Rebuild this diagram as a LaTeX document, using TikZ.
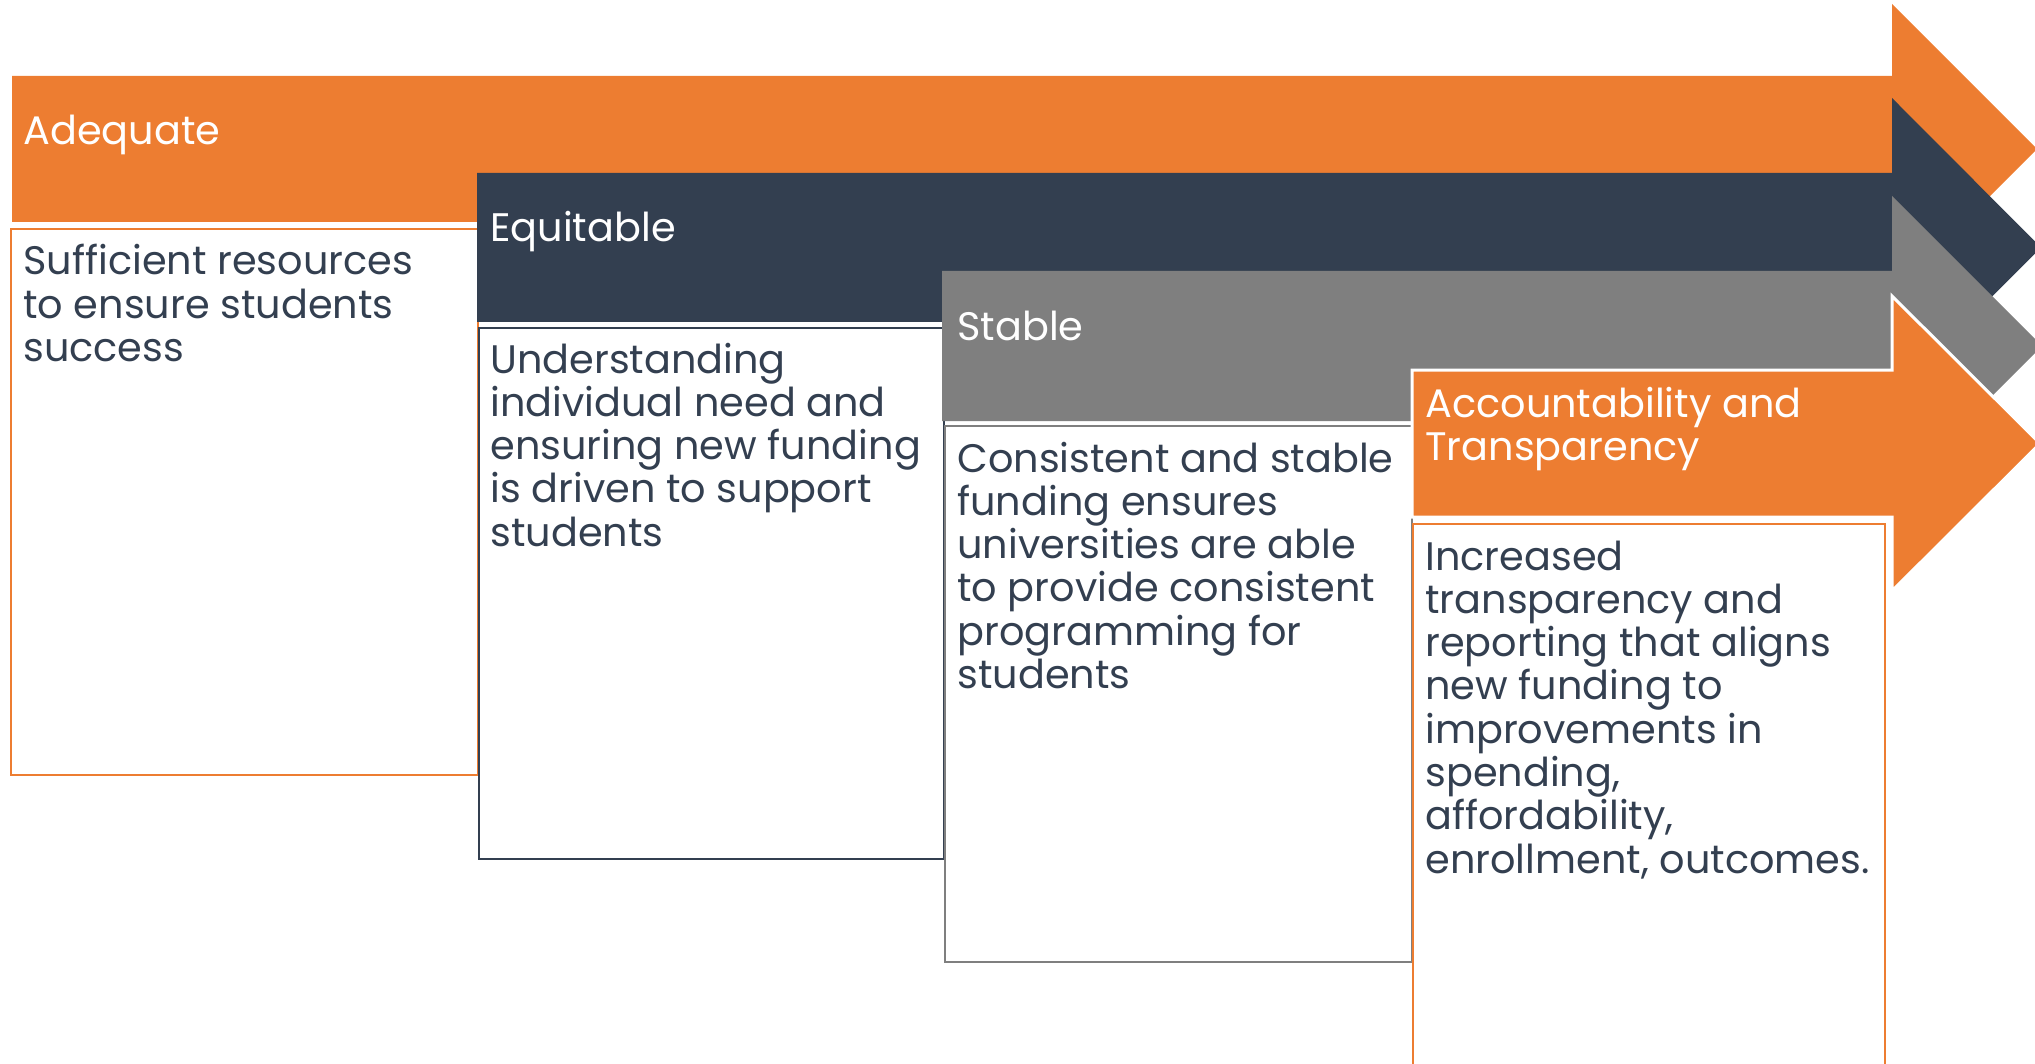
\documentclass[tikz,border=0pt]{standalone}
\usepackage{fontspec}
\setmainfont{Poppins}
\definecolor{orng}{HTML}{ED7D31}
\definecolor{navy}{HTML}{333F50}
\definecolor{gry}{HTML}{7F7F7F}
\begin{document}
\begin{tikzpicture}[x=0.5pt,y=-0.5pt,
  txt/.style={anchor=base west, inner sep=0pt, font=\fontsize{19.9pt}{21.65pt}\selectfont},
  hdr/.style={txt, text=white},
  body/.style={txt, text=navy},
  boxline/.style={line width=1.2pt}]
\useasboundingbox (0,0) rectangle (2035,1064);
% arrow 1
\fill[orng] (12,76) -- (1892,76) -- (1892,4) -- (2037,149) -- (1892,294) -- (1892,222) -- (12,222) -- cycle;
\draw[boxline, orng] (11,229) rectangle (478,775);
\node[hdr] (hA) at (23,145) {Adequate};
\node[body] (bA) at (23,275) {\parbox[t]{600pt}{Sufficient resources\\to ensure students\\success}};
% arrow 2
\fill[navy] (477,173) -- (1892,173) -- (1892,98) -- (2041,247.5) -- (1892,397) -- (1892,322) -- (477,322) -- cycle;
\draw[boxline, navy] (479,328) rectangle (944,859);
\node[hdr] (hE) at (490,242) {Equitable};
\node[body] (bE) at (490,373) {\parbox[t]{600pt}{Understanding\\individual need and\\ensuring new funding\\is driven to support\\students}};
% arrow 3
\fill[gry] (942,271) -- (1892,271) -- (1892,196) -- (2042,346) -- (1892,496) -- (1892,421) -- (942,421) -- cycle;
\draw[boxline, gry] (945,426) rectangle (1412,962);
\node[hdr] (hS) at (957,341) {Stable};
\node[body] (bS) at (957,472) {\parbox[t]{600pt}{Consistent and stable\\funding ensures\\universities are able\\to provide consistent\\programming for\\students}};
% arrow 4
\filldraw[fill=orng, draw=white, line width=1.5pt] (1412,370) -- (1892,370) -- (1892,296) -- (2040,443.5) -- (1892,591) -- (1892,517) -- (1412,517) -- cycle;
\draw[boxline, orng] (1413,524) rectangle (1885,1080);
\node[hdr] (hT) at (1425,417) {\parbox[t]{600pt}{Accountability and\\Transparency}};
\node[body] (bT) at (1425,570) {\parbox[t]{600pt}{Increased\\transparency and\\reporting that aligns\\new funding to\\improvements in\\spending,\\affordability,\\enrollment, outcomes.}};
\end{tikzpicture}
\end{document}
